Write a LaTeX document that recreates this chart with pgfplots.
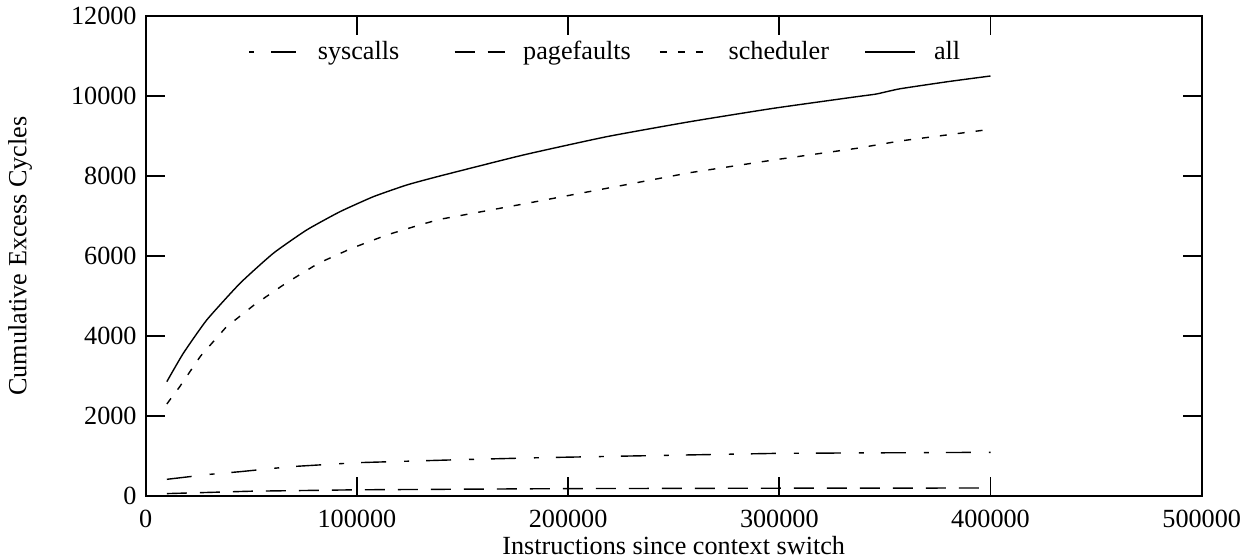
\documentclass[border=0pt]{standalone}
\usepackage{fontspec}
\setmainfont{Liberation Serif}
\usepackage{pgfplots}
\pgfplotsset{compat=1.18}

\pgfplotstableread{
x       y
10000   417
30000   540
44700   608
68500   733
100000  833
150000  910
186700  958
250000  1020
300000  1067
350000  1080
400000  1092
}\syscalls

\pgfplotstableread{
x       y
10000   60
50000   120
100000  155
200000  185
300000  195
400000  200
}\pagefaults

\pgfplotstableread{
x       y
10000   2300
15900   2717
26000   3500
38000   4217
51300   4775
66300   5317
81700   5817
97500   6192
114100  6525
130700  6792
139300  6917
178800  7300
218300  7692
257700  8083
297200  8400
336700  8692
357100  8875
400000  9167
}\scheduler

\pgfplotstableread{
x       y
10000   2858
17800   3567
28900   4400
44650   5317
60400   6067
76200   6650
92000   7108
107800  7483
123600  7775
139300  8000
178800  8525
218300  8983
257700  9358
297200  9692
336700  9983
346000  10050
357100  10180
380000  10360
400000  10500
}\allcyc

\begin{document}
\fontsize{13.1bp}{15.5bp}\selectfont
\begin{tikzpicture}
\useasboundingbox (0,0) rectangle (623bp,279bp);
\begin{axis}[
    at={(72.85bp,31bp)}, anchor=south west,
    scale only axis,
    width=528bp, height=240bp,
    xmin=0, xmax=500000,
    ymin=0, ymax=12000,
    xtick={0,100000,...,500000},
    ytick={0,2000,...,12000},
    scaled ticks=false,
    /pgf/number format/.cd, fixed, 1000 sep={}, assume math mode=true,
    /pgfplots/.cd,
    tick align=inside, tick pos=both,
    major tick length=9.5bp,
    axis line style={line width=0.9bp},
    every tick/.style={black, line width=0.9bp},
    tick label style={font=\fontsize{13.1bp}{15.5bp}\selectfont},
    xticklabel style={yshift=-2.6bp},
    label style={font=\fontsize{13.1bp}{15.5bp}\selectfont},
    xlabel={Instructions since context switch},
    ylabel={Cumulative Excess Cycles},
    xlabel style={at={(axis description cs:0.5,0)}, anchor=center, yshift=-25bp},
    ylabel style={at={(axis description cs:-0.119,0.5)}, anchor=center},
    legend columns=4,
    legend cell align=left,
    legend style={at={(0.0969,0.925)}, anchor=west, draw=none, fill=none,
        inner sep=0pt, column sep=0pt,
        font=\fontsize{13.1bp}{15.5bp}\selectfont,
        nodes={inner sep=0pt, text width=68bp, align=left},
        /tikz/every odd column/.append style={column sep=9bp}},
    legend image code/.code={\draw[#1] (0bp,0bp) -- (25bp,0bp);},
    every axis plot/.append style={black, line width=0.7bp},
]
\addplot[dash pattern=on 12.5bp off 9bp on 2.5bp off 8.5bp,
    legend image post style={dash phase=21.5bp}] table {\syscalls};
\addlegendentry{syscalls}
\addplot[dash pattern=on 10bp off 6.5bp] table {\pagefaults};
\addlegendentry{pagefaults}
\addplot[dash pattern=on 3.5bp off 5.5bp] table {\scheduler};
\addlegendentry{scheduler}
\addplot[solid, smooth, tension=0.3] table {\allcyc};
\addlegendentry{all}
\end{axis}
\end{tikzpicture}
\end{document}
